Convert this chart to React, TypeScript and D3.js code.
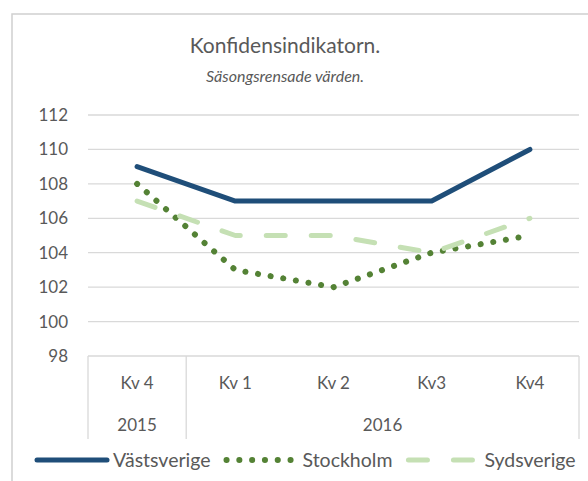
import React, { useEffect, useRef } from "react";
import * as d3 from "d3";

const quarters = ["Kv 4", "Kv 1", "Kv 2", "Kv3", "Kv4"];
const years = ["2015", "2016"];
const yearSpans = [1, 4]; // number of quarters under each year
const vastsverige = [109, 107, 107, 107, 110];
const stockholm = [108, 103, 102, 104, 105];
const sydsverige = [107, 105, 105, 104, 106];
const yTicks = [98, 100, 102, 104, 106, 108, 110, 112];

const FONT = "Lato, 'Open Sans', sans-serif";
const TEXT = "#595959";
const GRID = "#D9D9D9";

function App() {
  const chartRef = useRef<SVGSVGElement | null>(null);

  useEffect(() => {
    drawChart();
  }, []);

  const drawChart = () => {
    const svg = d3.select(chartRef.current);
    svg.selectAll("*").remove();

    const width = 588, height = 481;
    const plot = { left: 88, right: 579, top: 115, bottom: 356 };

    // chart area border
    svg.append("rect")
      .attr("x", 12).attr("y", 14)
      .attr("width", width + 20).attr("height", height + 20)
      .attr("fill", "#fff")
      .attr("stroke", "#D0D0D0")
      .attr("stroke-width", 1.5);

    // title
    svg.append("text")
      .attr("x", 285).attr("y", 53)
      .attr("text-anchor", "middle")
      .style("font-family", FONT)
      .style("font-size", "21px")
      .style("fill", TEXT)
      .text("Konfidensindikatorn.");

    svg.append("text")
      .attr("x", 285).attr("y", 82)
      .attr("text-anchor", "middle")
      .style("font-family", FONT)
      .style("font-size", "16px")
      .style("font-style", "italic")
      .style("fill", TEXT)
      .text("Säsongsrensade värden.");

    const x = d3.scaleBand<number>()
      .domain(quarters.map((_, i) => i))
      .range([plot.left, plot.right]);

    const y = d3.scaleLinear()
      .domain([98, 112])
      .range([plot.bottom, plot.top]);

    // gridlines + y labels
    svg.append("g")
      .selectAll("line")
      .data(yTicks.filter(t => t !== 98))
      .enter()
      .append("line")
      .attr("x1", plot.left).attr("x2", plot.right)
      .attr("y1", d => y(d)).attr("y2", d => y(d))
      .attr("stroke", GRID)
      .attr("stroke-width", 1.3);

    svg.append("g")
      .selectAll("text")
      .data(yTicks)
      .enter()
      .append("text")
      .attr("x", 68)
      .attr("y", d => y(d))
      .attr("dy", "0.35em")
      .attr("text-anchor", "end")
      .style("font-family", FONT)
      .style("font-size", "17px")
      .style("fill", TEXT)
      .text(d => d);

    // category axis (two levels)
    const axisBottom = 439;
    svg.append("line")
      .attr("x1", plot.left).attr("x2", plot.right)
      .attr("y1", plot.bottom).attr("y2", plot.bottom)
      .attr("stroke", GRID).attr("stroke-width", 1.3);

    let acc = 0;
    const bounds = [0];
    yearSpans.forEach(n => { acc += n; bounds.push(acc); });
    const xAt = (i: number) => i < quarters.length ? x(i)! : plot.right;

    svg.append("g")
      .selectAll("line")
      .data(bounds)
      .enter()
      .append("line")
      .attr("x1", d => xAt(d)).attr("x2", d => xAt(d))
      .attr("y1", plot.bottom).attr("y2", axisBottom)
      .attr("stroke", GRID).attr("stroke-width", 1.3);

    svg.append("g")
      .selectAll("text")
      .data(quarters)
      .enter()
      .append("text")
      .attr("x", (_, i) => x(i)! + x.bandwidth() / 2)
      .attr("y", 383)
      .attr("dy", "0.35em")
      .attr("text-anchor", "middle")
      .style("font-family", FONT)
      .style("font-size", "17px")
      .style("fill", TEXT)
      .text(d => d);

    svg.append("g")
      .selectAll("text")
      .data(years)
      .enter()
      .append("text")
      .attr("x", (_, i) => (xAt(bounds[i]) + xAt(bounds[i + 1])) / 2)
      .attr("y", 425)
      .attr("dy", "0.35em")
      .attr("text-anchor", "middle")
      .style("font-family", FONT)
      .style("font-size", "17px")
      .style("fill", TEXT)
      .text(d => d);

    // series
    const series = [
      { name: "Västsverige", values: vastsverige, color: "#1F4E79", dash: null as string | null, w: 5 },
      { name: "Stockholm", values: stockholm, color: "#548235", dash: "0.1 12.7", w: 6 },
      { name: "Sydsverige", values: sydsverige, color: "#C5E0B4", dash: "19 26", w: 5 },
    ];

    const line = d3.line<number>()
      .x((_, i) => x(i)! + x.bandwidth() / 2)
      .y(d => y(d));

    // later series are drawn on top, as in Excel
    series.forEach(s => {
      svg.append("path")
        .datum(s.values)
        .attr("d", line)
        .attr("fill", "none")
        .attr("stroke", s.color)
        .attr("stroke-width", s.w)
        .attr("stroke-linecap", "round")
        .attr("stroke-linejoin", "round")
        .attr("stroke-dasharray", s.dash);
    });

    // legend
    const legendY = 460;
    let lx = 37;
    series.forEach(s => {
      svg.append("line")
        .attr("x1", lx).attr("x2", lx + 70)
        .attr("y1", legendY).attr("y2", legendY)
        .attr("stroke", s.color)
        .attr("stroke-width", s.w)
        .attr("stroke-linecap", "round")
        .attr("stroke-dasharray", s.dash);
      const t = svg.append("text")
        .attr("x", lx + 76)
        .attr("y", legendY)
        .attr("dy", "0.35em")
        .style("font-family", FONT)
        .style("font-size", "19.5px")
        .style("fill", TEXT)
        .text(s.name);
      const w = (t.node() as SVGTextElement).getComputedTextLength();
      lx = lx + 76 + w + 16;
    });
  };

  return (
    <svg
      ref={chartRef}
      width={588}
      height={481}
      style={{ position: "absolute", left: 0, top: 0, background: "#fff" }}
    />
  );
}

export default App;
